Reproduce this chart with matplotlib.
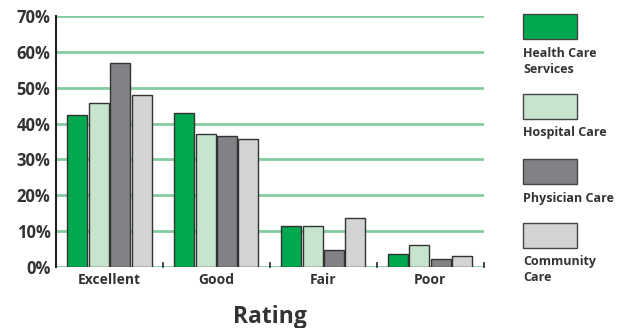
import matplotlib
matplotlib.use("Agg")
import matplotlib.pyplot as plt
from matplotlib.patches import Rectangle
import numpy as np

plt.rcParams['font.family'] = ['Open Sans', 'DejaVu Sans']

ratings = ["Excellent", "Good", "Fair", "Poor"]
series = ["Health Care\nServices", "Hospital Care", "Physician Care", "Community\nCare"]
health_care = [42.4, 43.0, 11.4, 3.5]
hospital = [45.7, 37.1, 11.5, 6.0]
physician = [56.9, 36.5, 4.7, 2.3]
community = [48.0, 35.7, 13.7, 3.0]
colors = ["#00a850", "#c7e5cd", "#808285", "#d1d3d4"]
yticks = [0, 10, 20, 30, 40, 50, 60, 70]

values = [health_care, hospital, physician, community]

fig = plt.figure(figsize=(6.17, 3.28), dpi=100)
ax = fig.add_axes([0.0908, 0.186, 0.693, 0.765])

x = np.arange(len(ratings)) + 0.5
w = 0.187
step = 0.2
for i, vals in enumerate(values):
    ax.bar(x + (i - 1.5) * step, vals, width=w, color=colors[i],
           edgecolor="#333333", linewidth=1.0, zorder=3)

ax.set_xlim(0, 4)
ax.set_ylim(0, 70)
ax.set_yticks(yticks)
ax.set_yticklabels([f"{t}%" for t in yticks], fontsize=12,
                   fontweight="bold", color="#333333")
for t in yticks:
    ax.axhline(t, color="#85cc9f", linewidth=2, zorder=1)

ax.set_xticks(x)
ax.set_xticklabels(ratings, fontsize=10, fontweight="bold", color="#333333")
ax.tick_params(axis="x", length=0, pad=4)
ax.tick_params(axis="y", length=0, pad=4)

# small separators between the rating groups
for b in range(1, 5):
    ax.plot([b, b], [0, 1.2], color="#222222", linewidth=1.2, zorder=4,
            clip_on=False)

for side in ["top", "right", "bottom"]:
    ax.spines[side].set_visible(False)
ax.spines["left"].set_color("#222222")
ax.spines["left"].set_linewidth(1.5)
ax.spines["left"].set_zorder(5)

ax.set_xlabel("Rating", fontsize=16.5, fontweight="bold", color="#333333",
              labelpad=13)

# legend boxes on the right side
W, H = 617, 328
box_tops = [14, 94, 159, 223]
text_tops = [47, 126, 192, 255]
for i, name in enumerate(series):
    y0 = box_tops[i]
    fig.patches.append(Rectangle((523 / W, 1 - (y0 + 25) / H), 54 / W, 25 / H,
                                 transform=fig.transFigure, facecolor=colors[i],
                                 edgecolor="#444444", linewidth=1.0))
    fig.text(523 / W, 1 - text_tops[i] / H, name, fontsize=9,
             fontweight="bold", color="#333333", va="top", ha="left",
             linespacing=1.3)

fig.savefig("out.png", dpi=100)
